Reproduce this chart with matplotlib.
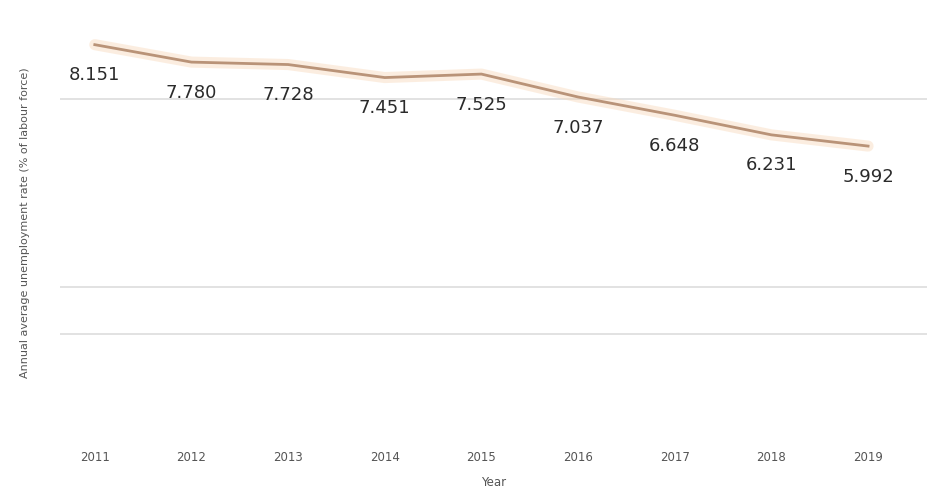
import matplotlib.pyplot as plt

years = ["2011", "2012", "2013", "2014", "2015", "2016", "2017", "2018", "2019"]
values = [8.151, 7.780, 7.728, 7.451, 7.525, 7.037, 6.648, 6.231, 5.992]
grid_levels = [2, 3, 7]

fig = plt.figure(figsize=(9.28, 4.93), dpi=100)
ax = fig.add_axes([60 / 928, 1 - 420 / 493, 1 - 60 / 928, (420 - 25) / 493])

x = list(range(len(years)))
ax.plot(x, values, color="#f8d9bb", lw=8, alpha=0.45, solid_capstyle="round")
ax.plot(x, values, color="#b99378", lw=2)

for xi, v in zip(x, values):
    ax.annotate(f"{v:.3f}", (xi, v), xytext=(0, -22), textcoords="offset points",
                ha="center", va="center", fontsize=13, color="#2b2b2b")

ax.set_xlim(-0.36, 8.62)
ax.set_ylim(0.16, 8.57)
ax.set_xticks(x)
ax.set_xticklabels(years, fontsize=8.5, color="#555555")
ax.tick_params(axis="x", length=0, pad=22)
ax.set_yticks(grid_levels)
ax.set_yticklabels([])
ax.tick_params(axis="y", length=0)
ax.grid(axis="y", color="#dddddd", lw=1.2)
ax.set_axisbelow(True)
for s in ax.spines.values():
    s.set_visible(False)

ax.set_xlabel("Year", fontsize=8.5, color="#555555", labelpad=9)
ax.set_ylabel("Annual average unemployment rate (% of labour force)", fontsize=8,
              color="#555555", labelpad=18)

fig.savefig("out.png", dpi=100)
